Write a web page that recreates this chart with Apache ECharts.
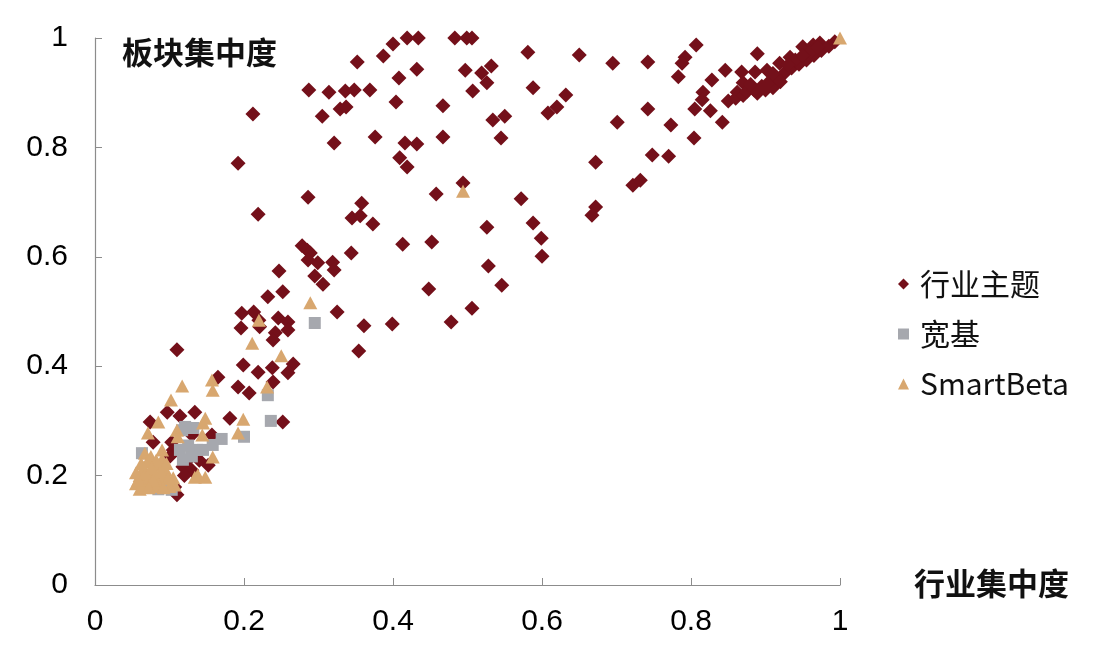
<!DOCTYPE html>
<html>
<head>
<meta charset="utf-8">
<script src="https://cdn.jsdelivr.net/npm/echarts@6/dist/echarts.min.js"></script>
<style>
  html, body { margin: 0; padding: 0; background: #fff; }
  #chart { width: 1116px; height: 672px; }
</style>
</head>
<body>
<div id="chart"></div>
<script>
// ticks
var xTicks = [0, 0.2, 0.4, 0.6, 0.8, 1];
var yTicks = [0, 0.2, 0.4, 0.6, 0.8, 1];

var seriesNames = ['行业主题', '宽基', 'SmartBeta'];

// 行业主题 [行业集中度, 板块集中度]
var themeData = [
  [0.419, 1.0], [0.434, 1.0], [0.483, 1.0], [0.499, 1.0], [0.506, 1.0],
  [0.400, 0.989], [0.387, 0.967], [0.352, 0.956], [0.432, 0.943], [0.497, 0.941],
  [0.519, 0.936], [0.532, 0.949], [0.526, 0.918], [0.507, 0.903], [0.408, 0.927],
  [0.287, 0.905], [0.314, 0.901], [0.336, 0.903], [0.348, 0.905], [0.369, 0.905],
  [0.404, 0.883], [0.467, 0.876], [0.329, 0.870], [0.337, 0.874], [0.305, 0.857],
  [0.212, 0.861], [0.534, 0.850], [0.550, 0.857], [0.545, 0.817], [0.321, 0.808],
  [0.376, 0.819], [0.416, 0.808], [0.432, 0.806], [0.467, 0.819], [0.409, 0.781],
  [0.419, 0.764], [0.192, 0.771], [0.494, 0.735], [0.458, 0.715], [0.286, 0.709],
  [0.219, 0.678], [0.358, 0.698], [0.345, 0.671], [0.356, 0.675], [0.373, 0.660],
  [0.526, 0.654], [0.413, 0.623], [0.452, 0.627], [0.278, 0.620], [0.285, 0.612],
  [0.289, 0.607], [0.286, 0.594], [0.299, 0.589], [0.319, 0.590], [0.321, 0.576],
  [0.344, 0.607], [0.247, 0.574], [0.295, 0.565], [0.306, 0.550], [0.528, 0.583],
  [0.546, 0.548], [0.448, 0.541], [0.232, 0.527], [0.252, 0.536], [0.325, 0.499],
  [0.506, 0.506], [0.478, 0.481], [0.399, 0.477], [0.361, 0.474], [0.354, 0.428],
  [0.581, 0.974], [0.650, 0.969], [0.695, 0.954], [0.742, 0.956], [0.588, 0.909],
  [0.632, 0.896], [0.620, 0.874], [0.608, 0.863], [0.701, 0.846], [0.773, 0.841],
  [0.742, 0.870], [0.804, 0.817], [0.672, 0.773], [0.748, 0.786], [0.770, 0.784],
  [0.722, 0.731], [0.732, 0.740], [0.572, 0.706], [0.588, 0.662], [0.599, 0.634],
  [0.600, 0.601], [0.672, 0.691], [0.667, 0.676],
  [0.807, 0.987], [0.792, 0.965], [0.788, 0.954], [0.783, 0.929], [0.889, 0.971],
  [0.846, 0.941], [0.828, 0.923], [0.868, 0.938], [0.886, 0.938], [0.902, 0.941],
  [0.816, 0.901], [0.815, 0.887], [0.805, 0.870], [0.826, 0.867], [0.842, 0.846],
  [0.862, 0.901], [0.870, 0.918], [0.889, 0.899], [0.910, 0.909], [0.919, 0.954],
  [0.933, 0.965], [0.950, 0.984], [0.964, 0.987], [0.973, 0.991],
  [0.850, 0.885], [0.860, 0.890], [0.870, 0.895], [0.875, 0.902], [0.885, 0.905],
  [0.895, 0.912], [0.905, 0.920], [0.915, 0.928], [0.925, 0.935], [0.935, 0.945],
  [0.945, 0.952], [0.955, 0.960], [0.965, 0.968], [0.975, 0.977], [0.985, 0.985],
  [0.993, 0.993], [0.940, 0.960], [0.960, 0.975], [0.920, 0.920], [0.900, 0.905],
  [0.880, 0.915], [0.930, 0.950], [0.950, 0.968], [0.970, 0.982], [0.910, 0.935],
  [0.197, 0.497], [0.213, 0.499], [0.220, 0.484], [0.221, 0.472], [0.196, 0.470],
  [0.246, 0.488], [0.259, 0.481], [0.259, 0.466], [0.242, 0.461], [0.239, 0.448],
  [0.110, 0.430], [0.199, 0.402], [0.219, 0.389], [0.238, 0.397], [0.266, 0.404],
  [0.259, 0.388], [0.239, 0.371], [0.165, 0.380], [0.192, 0.362], [0.207, 0.351],
  [0.097, 0.316], [0.114, 0.309], [0.134, 0.316], [0.181, 0.305], [0.074, 0.298],
  [0.252, 0.298], [0.157, 0.274], [0.078, 0.261], [0.103, 0.261], [0.130, 0.274],
  [0.105, 0.247], [0.125, 0.229], [0.118, 0.216], [0.152, 0.219], [0.130, 0.210],
  [0.101, 0.236], [0.110, 0.165], [0.107, 0.179], [0.120, 0.200], [0.140, 0.228]
];

// 宽基
var broadData = [
  [0.295, 0.479], [0.232, 0.347], [0.236, 0.300], [0.200, 0.271], [0.170, 0.267],
  [0.117, 0.283], [0.132, 0.287], [0.121, 0.289], [0.114, 0.247], [0.137, 0.247],
  [0.158, 0.256], [0.145, 0.247], [0.118, 0.229], [0.091, 0.192], [0.103, 0.174],
  [0.074, 0.179], [0.063, 0.241], [0.130, 0.235], [0.125, 0.255], [0.085, 0.175]
];

// SmartBeta
var smartData = [
  [1.0, 1.0], [0.494, 0.720], [0.289, 0.516], [0.220, 0.484], [0.211, 0.442],
  [0.250, 0.419], [0.231, 0.362], [0.157, 0.375], [0.158, 0.356], [0.117, 0.364],
  [0.102, 0.338], [0.199, 0.303], [0.148, 0.305], [0.085, 0.298], [0.192, 0.278],
  [0.071, 0.278], [0.110, 0.283], [0.144, 0.274], [0.111, 0.271], [0.145, 0.296],
  [0.090, 0.247], [0.067, 0.241], [0.158, 0.234], [0.134, 0.197], [0.148, 0.197],
  [0.107, 0.183], [0.105, 0.196], [0.138, 0.201],
  [0.055, 0.185], [0.060, 0.200], [0.065, 0.215], [0.070, 0.190], [0.075, 0.205],
  [0.080, 0.180], [0.085, 0.220], [0.090, 0.195], [0.095, 0.210], [0.060, 0.175],
  [0.070, 0.225], [0.080, 0.200], [0.100, 0.180], [0.065, 0.180], [0.085, 0.185],
  [0.075, 0.235], [0.090, 0.230], [0.055, 0.205], [0.058, 0.192], [0.068, 0.205],
  [0.078, 0.192], [0.088, 0.208], [0.098, 0.195], [0.072, 0.178], [0.092, 0.178],
  [0.062, 0.222], [0.082, 0.228], [0.076, 0.215], [0.096, 0.222]
];

var labelFont = '"Liberation Sans", Arial, sans-serif';
var cjkFont = '"Noto Sans CJK SC", "Liberation Sans", sans-serif';

var chart = echarts.init(document.getElementById('chart'));

chart.setOption({
  animation: false,
  backgroundColor: '#fff',
  grid: { left: 95, right: 276, top: 38, bottom: 87, containLabel: false },
  xAxis: {
    type: 'value',
    min: xTicks[0], max: xTicks[xTicks.length - 1], interval: 0.2,
    axisLine: { show: true, lineStyle: { color: '#8c8c8c', width: 1.2 } },
    axisTick: { show: true, inside: true, length: 7, lineStyle: { color: '#8c8c8c' } },
    axisLabel: { margin: 22, fontSize: 30, color: '#000', fontFamily: labelFont },
    splitLine: { show: false }
  },
  yAxis: {
    type: 'value',
    min: yTicks[0], max: yTicks[yTicks.length - 1], interval: 0.2,
    axisLine: { show: true, lineStyle: { color: '#8c8c8c', width: 1.2 } },
    axisTick: { show: true, inside: true, length: 7, lineStyle: { color: '#8c8c8c' } },
    axisLabel: { margin: 27, fontSize: 30, color: '#000', fontFamily: labelFont },
    splitLine: { show: false }
  },
  legend: {
    orient: 'vertical',
    left: 893,
    top: 264,
    itemWidth: 11,
    itemHeight: 11,
    itemGap: 20,
    textStyle: { fontSize: 30, color: '#111', fontFamily: cjkFont, padding: [0, 0, 0, 6] },
    data: seriesNames
  },
  graphic: [
    { type: 'text', left: 122, top: 37,
      style: { text: '板块集中度', fill: '#111', font: 'bold 31px ' + cjkFont } },
    { type: 'text', left: 914, top: 568,
      style: { text: '行业集中度', fill: '#111', font: 'bold 31px ' + cjkFont } }
  ],
  series: [
    {
      name: seriesNames[0], type: 'scatter', symbol: 'path://M0,-1L1,0L0,1L-1,0Z', symbolSize: 15,
      itemStyle: { color: '#74101a', opacity: 1 },
      data: themeData
    },
    {
      name: seriesNames[1], type: 'scatter', symbol: 'rect', symbolSize: 12,
      itemStyle: { color: '#a6a8ae', opacity: 1 },
      data: broadData
    },
    {
      name: seriesNames[2], type: 'scatter', symbol: 'triangle', symbolSize: [14, 13],
      itemStyle: { color: '#d8a76f', opacity: 1 },
      data: smartData
    }
  ]
});
</script>
</body>
</html>
